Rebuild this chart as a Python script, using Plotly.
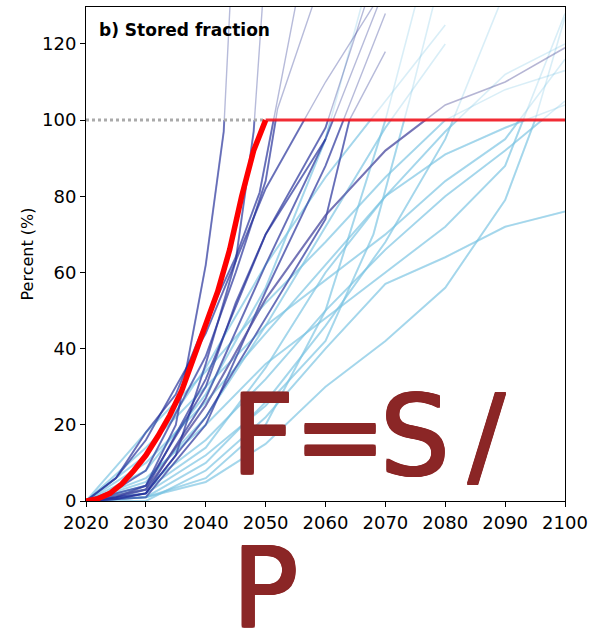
import plotly.graph_objects as go

# ---------------- data ----------------
red_years = [2020, 2022, 2024, 2026, 2028, 2030, 2032, 2034, 2036, 2038, 2040, 2042, 2044, 2046, 2048, 2050]
red_vals = [0, 0.6, 2, 4.5, 8, 12, 17, 22.5, 29, 37.5, 46, 55, 66, 80, 92, 100]
flat_years = [2050, 2100]
flat_vals = [100, 100]
ref_years = [2020, 2050]
ref_vals = [100, 100]

# dark (navy) scenarios
d1_years = [2020, 2025, 2030, 2035, 2040, 2043, 2045]
d1_vals = [0, 1, 4, 20, 62, 97, 160]
d2_years = [2020, 2025, 2030, 2035, 2040, 2045, 2048, 2051]
d2_vals = [0, 0.5, 2, 12, 36, 63, 97, 165]
d3_years = [2020, 2025, 2030, 2035, 2040, 2045, 2049, 2055]
d3_vals = [0, 6, 18, 28, 47, 64, 81, 130]
d4_years = [2020, 2025, 2030, 2040, 2050, 2060, 2068]
d4_vals = [0, 6, 16, 44, 82, 110, 130]
d5_years = [2020, 2025, 2030, 2040, 2050, 2060, 2067]
d5_vals = [0, 1, 3, 32, 70, 98, 132]
d6_years = [2020, 2025, 2030, 2040, 2050, 2060, 2070]
d6_vals = [0, 0.5, 2, 27, 62, 95, 135]
d7_years = [2020, 2025, 2030, 2040, 2050, 2060, 2070]
d7_vals = [0, 0.5, 1, 20, 55, 88, 128]
d8_years = [2020, 2030, 2040, 2050, 2060, 2070, 2080, 2090, 2100]
d8_vals = [0, 3, 25, 53, 75, 92, 104, 110, 119]
d9_years = [2020, 2025, 2030, 2040, 2045, 2050, 2052, 2060]
d9_vals = [0, 3, 8, 38, 60, 84, 103, 140]
d10_years = [2020, 2030, 2040, 2045, 2050, 2060]
d10_vals = [0, 4, 30, 52, 70, 95]
d11_years = [2020, 2030, 2040, 2050, 2060, 2064, 2070]
d11_vals = [0, 2, 22, 48, 74, 100, 118]

# light-blue scenarios
l1_years = [2020, 2030, 2040, 2050, 2060, 2070, 2080, 2090, 2100]
l1_vals = [0, 0, 8, 22, 40, 57, 64, 72, 76]
l2_years = [2020, 2030, 2040, 2050, 2060, 2070, 2080, 2090, 2095, 2100]
l2_vals = [0, 1, 5, 15, 30, 42, 56, 79, 100, 127]
l3_years = [2020, 2030, 2040, 2050, 2060, 2070, 2080, 2090, 2100]
l3_vals = [0, 4, 16, 32, 50, 66, 80, 92, 105]
l4_years = [2020, 2030, 2040, 2050, 2060, 2070, 2080, 2090, 2100]
l4_vals = [0, 10, 26, 44, 62, 80, 97, 112, 120]
l5_years = [2020, 2030, 2040, 2050, 2060, 2068, 2074, 2078]
l5_vals = [0, 2, 12, 25, 42, 70, 105, 130]
l6_years = [2020, 2030, 2040, 2050, 2060, 2070, 2080, 2089]
l6_vals = [0, 1, 10, 26, 46, 68, 95, 130]
l7_years = [2020, 2030, 2040, 2050, 2060, 2070, 2080, 2090, 2100]
l7_vals = [0, 14, 30, 46, 58, 70, 84, 95, 116]
l8_years = [2020, 2030, 2040, 2050, 2060, 2070, 2080, 2090, 2100]
l8_vals = [0, 6, 20, 36, 48, 60, 72, 88, 128]
l9_years = [2020, 2030, 2040, 2050, 2060, 2070, 2080]
l9_vals = [0, 5, 22, 46, 72, 98, 120]
l10_years = [2020, 2030, 2040, 2050, 2060, 2066]
l10_vals = [0, 8, 28, 56, 95, 130]
l11_years = [2020, 2030, 2040, 2050, 2060, 2070, 2080, 2090, 2100]
l11_vals = [0, 3, 14, 35, 60, 80, 91, 98, 104]
l12_years = [2020, 2030, 2040, 2050, 2060, 2070, 2075]
l12_vals = [0, 1, 6, 20, 50, 100, 130]
l13_years = [2020, 2030, 2040, 2050, 2060, 2070, 2080, 2090, 2100]
l13_vals = [0, 18, 34, 52, 68, 85, 100, 108, 113]
l14_years = [2020, 2030, 2040, 2050, 2060, 2070, 2080]
l14_vals = [0, 12, 35, 62, 85, 105, 125]

x_ticks = [2020, 2030, 2040, 2050, 2060, 2070, 2080, 2090, 2100]
y_ticks = [0, 20, 40, 60, 80, 100, 120]

dark_series = [(d1_years, d1_vals), (d2_years, d2_vals), (d3_years, d3_vals), (d4_years, d4_vals),
               (d5_years, d5_vals), (d6_years, d6_vals), (d7_years, d7_vals), (d9_years, d9_vals),
               (d10_years, d10_vals), (d11_years, d11_vals)]
purple_series = [(d8_years, d8_vals)]
light_series = [(l1_years, l1_vals), (l2_years, l2_vals), (l3_years, l3_vals), (l4_years, l4_vals),
                (l5_years, l5_vals), (l6_years, l6_vals), (l7_years, l7_vals), (l8_years, l8_vals),
                (l9_years, l9_vals), (l10_years, l10_vals), (l11_years, l11_vals), (l12_years, l12_vals),
                (l13_years, l13_vals), (l14_years, l14_vals)]

YMAX = 129.7

fig = go.Figure()


def add_series(series, strong, weak, w_strong, w_weak):
    for xs, ys in series:
        # faint full line (visible above 100 %)
        fig.add_trace(go.Scatter(x=xs, y=ys, mode="lines", line=dict(color=weak, width=w_weak),
                                 hoverinfo="skip", yaxis="y"))
        # strong copy clipped at 100 % via the secondary axis
        fig.add_trace(go.Scatter(x=xs, y=ys, mode="lines", line=dict(color=strong, width=w_strong),
                                 hoverinfo="skip", yaxis="y2"))


add_series(light_series, "rgba(120,195,225,0.55)", "rgba(120,195,225,0.28)", 2, 1.6)
add_series(dark_series, "rgba(35,45,155,0.55)", "rgba(50,60,150,0.35)", 2, 1.4)
add_series(purple_series, "rgba(80,80,165,0.65)", "rgba(90,90,160,0.45)", 2.2, 1.6)

fig.add_trace(go.Scatter(x=ref_years, y=ref_vals, mode="lines", yaxis="y3",
                         line=dict(color="#aaaaaa", width=3, dash="dot"), hoverinfo="skip"))
fig.add_trace(go.Scatter(x=flat_years, y=flat_vals, mode="lines", yaxis="y3",
                         line=dict(color="rgba(240,20,30,0.9)", width=3), hoverinfo="skip"))
fig.add_trace(go.Scatter(x=red_years, y=red_vals, mode="lines", yaxis="y3",
                         line=dict(color="#ff0000", width=5.5), hoverinfo="skip"))


def px_to_paper_x(px):
    return (px - 86) / 482


def py_to_paper_y(py):
    return (501 - py) / 495


HAND_COLOR = "#8B2626"
thick = ", ".join(f"{dx}px {dy}px 0 {HAND_COLOR}" for dx, dy in
                  [(1, 0), (-1, 0), (0, 1), (0, -1), (1, 1), (-1, -1), (1, -1), (-1, 1)])
hand = dict(family="DejaVu Sans", size=110, color=HAND_COLOR, shadow=thick)
for ch, cx, cy in [("F", 264, 436), ("=", 342, 436), ("S", 417, 436), ("/", 490, 436)]:
    fig.add_annotation(x=px_to_paper_x(cx), y=py_to_paper_y(cy), xref="paper", yref="paper",
                       text=ch, showarrow=False,
                       font=hand, xanchor="center", yanchor="middle")
fig.add_annotation(x=px_to_paper_x(266), y=py_to_paper_y(588), xref="paper", yref="paper",
                   text="P", showarrow=False, font=hand, xanchor="center", yanchor="middle",
                   height=86, valign="middle")

fig.add_annotation(x=px_to_paper_x(97), y=py_to_paper_y(29), xref="paper", yref="paper",
                   text="<b>b) Stored fraction</b>",
                   showarrow=False, xanchor="left", yanchor="middle",
                   font=dict(family="DejaVu Sans", size=17, color="black"))

fig.update_layout(
    width=594, height=631,
    margin=dict(l=86, r=26, t=6, b=130),
    plot_bgcolor="rgba(0,0,0,0)", paper_bgcolor="white",
    showlegend=False,
    font=dict(family="DejaVu Sans", color="black"),
    xaxis=dict(range=[2020, 2100], tickvals=x_ticks, ticks="outside", ticklen=5, tickcolor="black",
               showgrid=False, zeroline=False, showline=True, linecolor="black", linewidth=1,
               mirror=True, tickfont=dict(size=18), anchor="y"),
    yaxis=dict(range=[0, YMAX], tickvals=y_ticks, ticks="outside", ticklen=5, tickcolor="black",
               showgrid=False, zeroline=False, showline=True, linecolor="black", linewidth=1,
               mirror=True, tickfont=dict(size=18), domain=[0, 1],
               title=dict(text="Percent (%)", font=dict(size=16, family="DejaVu Sans"), standoff=4)),
    yaxis2=dict(range=[0, 100], domain=[0, 100 / YMAX], anchor="x", visible=False,
                showgrid=False, zeroline=False),
    yaxis3=dict(range=[0, YMAX], domain=[0, 1], anchor="x", visible=False,
                showgrid=False, zeroline=False),
)

fig.write_html("out.html")
